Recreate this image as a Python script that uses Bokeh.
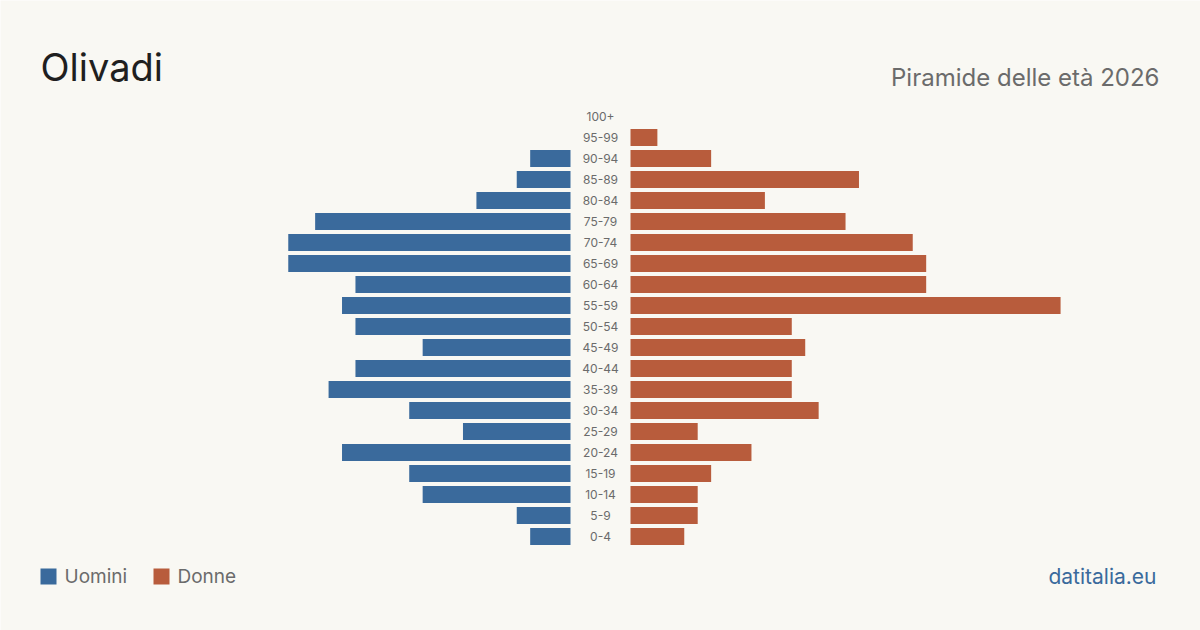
from bokeh.plotting import figure
from bokeh.models import ColumnDataSource, Range1d
from bokeh.core.properties import value
from bokeh.embed import file_html
from bokeh.resources import INLINE

ages = ["0-4", "5-9", "10-14", "15-19", "20-24", "25-29", "30-34", "35-39", "40-44",
        "45-49", "50-54", "55-59", "60-64", "65-69", "70-74", "75-79", "80-84",
        "85-89", "90-94", "95-99", "100+"]
men = [3, 4, 11, 12, 17, 8, 12, 18, 16, 11, 16, 17, 16, 21, 21, 19, 7, 4, 3, 0, 0]
women = [4, 5, 5, 6, 9, 5, 14, 12, 12, 13, 12, 32, 22, 22, 21, 16, 10, 17, 6, 2, 0]

W, H = 1200, 630
PX = 13.44          # pixels per person
GAP = 30 / PX       # half gap around labels, in data units
BLUE = "#3a6a9c"
ORANGE = "#b85c3c"
BG = "#f9f8f3"
FONT = "Inter"

xr = Range1d(-600 / PX, 600 / PX)
yr = Range1d(-94 / 21, (H - 94) / 21)

p = figure(width=W, height=H, x_range=xr, y_range=yr, output_backend="svg",
           toolbar_location=None, min_border=0)
p.axis.visible = False
p.grid.visible = False
p.outline_line_color = None
p.background_fill_color = BG
p.border_fill_color = BG

idx = list(range(len(ages)))
src = ColumnDataSource(dict(
    y=idx, age=ages,
    ml=[-GAP - m for m in men], mr=[-GAP] * len(men),
    wl=[GAP] * len(women), wr=[GAP + w for w in women],
    zero=[0] * len(ages),
))

p.hbar(y="y", left="ml", right="mr", height=17 / 21, source=src,
       fill_color=BLUE, line_color=None)
p.hbar(y="y", left="wl", right="wr", height=17 / 21, source=src,
       fill_color=ORANGE, line_color=None)
p.text(x="zero", y="y", text="age", source=src, text_align="center",
       text_baseline="middle", text_font=value(FONT), text_font_size="12px",
       text_color="#6b6b6b")

# Title and subtitle (screen-positioned)
def sx(px):
    return -600 / PX + px / PX

def sy(py):
    return ((H - py) - 94) / 21

p.text(x=[sx(40)], y=[sy(66)], text=["Olivadi"], text_font=value(FONT),
       text_font_size="38px", text_color="#1f1f1f", text_baseline="middle")
p.text(x=[sx(1159)], y=[sy(77)], text=["Piramide delle età 2026"], text_font=value(FONT),
       text_font_size="24px", text_color="#6b6b6b", text_align="right",
       text_baseline="middle")

# Legend
p.rect(x=[sx(48), sx(161)], y=[sy(576), sy(576)], width=16 / PX, height=16 / 21,
       fill_color=[BLUE, ORANGE], line_color=None)
p.text(x=[sx(64), sx(177)], y=[sy(576), sy(576)], text=["Uomini", "Donne"],
       text_font=value(FONT), text_font_size="19px", text_color="#6b6b6b",
       text_baseline="middle")
p.text(x=[sx(1156)], y=[sy(576)], text=["datitalia.eu"], text_font=value(FONT),
       text_font_size="21px", text_color=BLUE, text_align="right",
       text_baseline="middle")

open("out.html", "w").write(file_html(p, INLINE))
